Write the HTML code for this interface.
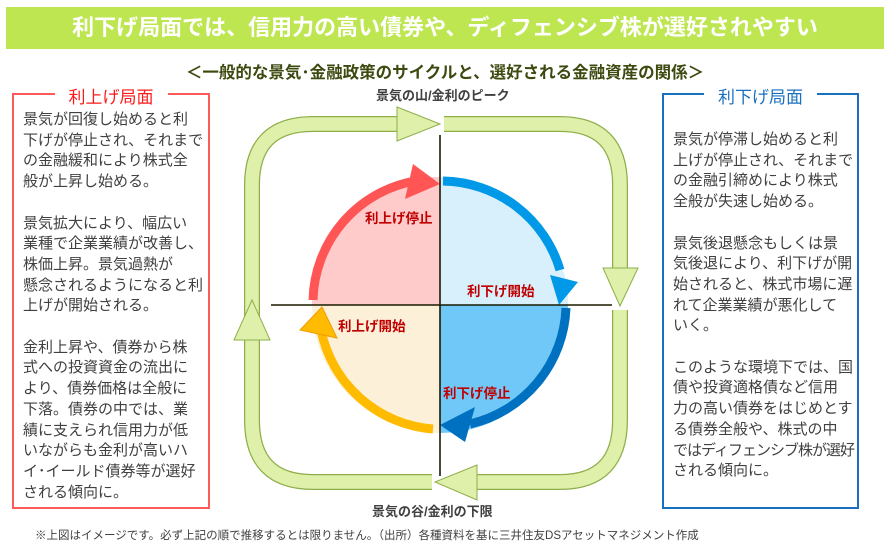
<!DOCTYPE html>
<html><head><meta charset="utf-8"><style>
body{margin:0;width:890px;height:547px;background:#fff;position:relative;overflow:hidden;font-family:"Liberation Sans","Noto Sans CJK JP",sans-serif}
.hd{position:absolute;left:6px;top:7px;width:878px;height:42px;background:#bde651;color:#fff;font-size:22px;font-weight:bold;text-align:center;line-height:42px}
.sub{position:absolute;left:0;width:890px;top:59px;text-align:center;font-size:16.5px;font-weight:bold;color:#3c4a10}
.box{position:absolute;top:93px;height:416px;border:2px solid;box-sizing:border-box}
.ttl{position:absolute;top:-12px;left:0;right:0;text-align:center}
.ttl span{background:#fff;padding:0 14px;font-size:17px}
.txt{position:absolute;left:9px;font-size:15px;line-height:20.7px;color:#404040;white-space:nowrap}
.lb{position:absolute;font-size:13.5px;font-weight:bold;color:#c00000}
.ax{position:absolute;font-size:13px;font-weight:bold;color:#404040}
.ft{position:absolute;left:35px;top:527px;font-size:11.5px;color:#404040;white-space:nowrap}
</style></head><body>
<div class="hd">利下げ局面では、信用力の高い債券や、ディフェンシブ株が選好されやすい</div>
<div class="sub">＜一般的な景気･金融政策のサイクルと、選好される金融資産の関係＞</div>
<div class="box" style="left:12px;width:198px;border-color:#ff5a5a"><div class="ttl"><span style="color:#ff1a1a">利上げ局面</span></div>
<div class="txt" style="top:15px">景気が回復し始めると利<br>下げが停止され、それまで<br>の金融緩和により株式全<br>般が上昇し始める。<br><br>景気拡大により、幅広い<br>業種で企業業績が改善し、<br>株価上昇。景気過熱が<br>懸念されるようになると利<br>上げが開始される。<br><br>金利上昇や、債券から株<br>式への投資資金の流出に<br>より、債券価格は全般に<br>下落。債券の中では、業<br>績に支えられ信用力が低<br>いながらも金利が高いハ<br>イ･イールド債券等が選好<br>される傾向に。</div></div>
<div class="box" style="left:662px;width:197px;border-color:#1a70c0"><div class="ttl"><span style="color:#1a70c0">利下げ局面</span></div>
<div class="txt" style="top:35px">景気が停滞し始めると利<br>上げが停止され、それまで<br>の金融引締めにより株式<br>全般が失速し始める。<br><br>景気後退懸念もしくは景<br>気後退により、利下げが開<br>始されると、株式市場に遅<br>れて企業業績が悪化して<br>いく。<br><br>このような環境下では、国<br>債や投資適格債など信用<br>力の高い債券をはじめとす<br>る債券全般や、株式の中<br><span style="letter-spacing:-1px">ではディフェンシブ株が選好</span><br>される傾向に。</div></div>
<svg style="position:absolute;left:0;top:0" width="890" height="547">
<g fill="none" stroke-linejoin="round">
<path d="M252 330 V185 Q252 124 313 124 H405 M444 124 H560 Q620 124 620 185 V272 M620 310 V420 Q620 482 560 482 H470 M432 482 H313 Q252 482 252 420 V340" stroke="#8fae4a" stroke-width="16"/>
<path d="M252 330 V185 Q252 124 313 124 H405 M444 124 H560 Q620 124 620 185 V272 M620 310 V420 Q620 482 560 482 H470 M432 482 H313 Q252 482 252 420 V340" stroke="#def0aa" stroke-width="13.5"/>
</g>
<g fill="#def0aa" stroke="#8fae4a" stroke-width="1">
<polygon points="397,107 440,124 397,141 397,131 397,117"/>
<polygon points="603,268 638,268 620,306"/>
<polygon points="477,465 477,500 435,482"/>
<polygon points="234,340 270,340 252,300"/>
</g>
<path d="M440 305 H312 A128 128 0 0 1 440 177Z" fill="#ffcaca"/>
<path d="M440 305 V177 A128 128 0 0 1 568 305Z" fill="#d8effc"/>
<path d="M440 305 H568 A128 128 0 0 1 440 433Z" fill="#6fc8f8"/>
<path d="M440 305 V433 A128 128 0 0 1 312 305Z" fill="#fdf0d8"/>
<g fill="none" stroke-width="9">
<path d="M313 300 A124 124 0 0 1 415 181" stroke="#ff5555"/>
<path d="M443 181 A124 124 0 0 1 560 270" stroke="#0099e8"/>
<path d="M566 308 A124 124 0 0 1 470 424" stroke="#0070c0"/>
<path d="M433 429 A124 124 0 0 1 321 330" stroke="#ffbb00"/>
</g>
<polygon points="413,164 440,184 405,199" fill="#ff5555"/>
<polygon points="550,275 578,282 559,305" fill="#0099e8"/>
<polygon points="475,407 440,425 465,442" fill="#0070c0"/>
<polygon points="300,330 322,307 337,338" fill="#ffbb00" stroke="#f29a00"/>
<line x1="440" y1="135" x2="440" y2="476" stroke="#1a1a00" stroke-width="1.6"/>
<line x1="271" y1="305" x2="612" y2="305" stroke="#1a1a00" stroke-width="1.6"/>
</svg>
<div class="ax" style="left:376px;top:85px">景気の山/金利のピーク</div>
<div class="ax" style="left:372px;top:501px">景気の谷/金利の下限</div>
<div class="lb" style="left:365px;top:207px">利上げ停止</div>
<div class="lb" style="left:467px;top:280px">利下げ開始</div>
<div class="lb" style="left:338px;top:315px">利上げ開始</div>
<div class="lb" style="left:443px;top:382px">利下げ停止</div>
<div class="ft">※上図はイメージです。必ず上記の順で推移するとは限りません。（出所）各種資料を基に三井住友DSアセットマネジメント作成</div>
</body></html>
